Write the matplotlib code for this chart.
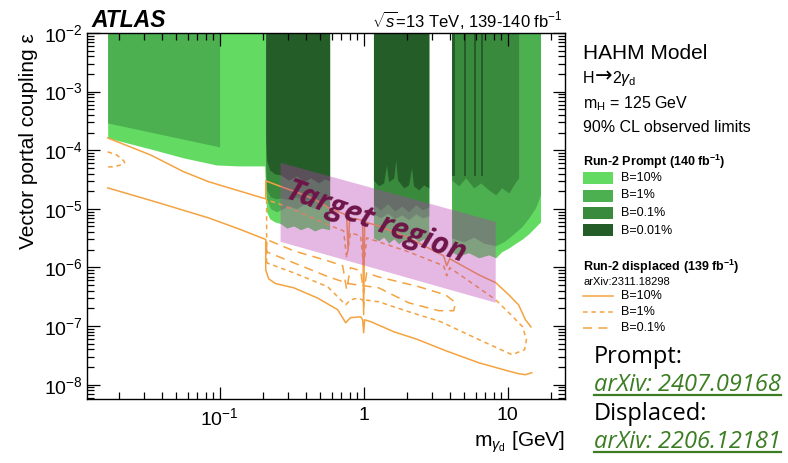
import numpy as np
import matplotlib
matplotlib.use('Agg')
import matplotlib.pyplot as plt
from matplotlib.patches import Rectangle, Polygon
from matplotlib.lines import Line2D
from matplotlib.ticker import LogLocator, NullFormatter

plt.rcParams['font.family'] = ['Liberation Sans', 'DejaVu Sans']
plt.rcParams['mathtext.fontset'] = 'custom'
plt.rcParams['mathtext.rm'] = 'Liberation Sans'
plt.rcParams['mathtext.it'] = 'Liberation Sans:italic'
plt.rcParams['mathtext.bf'] = 'Liberation Sans:bold'
plt.rcParams['mathtext.sf'] = 'Liberation Sans'

# ---------------- prompt analysis: lower edge of excluded region (filled to eps = 1e-2)
eps_top = 1e-2

b10_segments = [
    ([0.0167, 0.0332, 0.0562, 0.0953, 0.1355, 0.2054, 0.209, 0.212, 0.2225, 0.241, 0.265,
      0.292, 0.327, 0.365, 0.408, 0.457, 0.511, 0.58],
     [1.62e-4, 1.05e-4, 7.4e-5, 5.6e-5, 5.4e-5, 5.4e-5, 1.73e-5, 8.9e-6, 6.8e-6, 6.0e-6, 5.6e-6,
      4.7e-6, 5.1e-6, 4.4e-6, 4.9e-6, 4.2e-6, 4.7e-6, 4.4e-6]),
    ([1.17, 1.27, 1.377, 1.49, 1.62, 1.75, 1.90, 2.05, 2.22, 2.41, 2.61, 2.83],
     [3.2e-6, 2.85e-6, 3.3e-6, 2.6e-6, 3.08e-6, 2.54e-6, 3.0e-6, 2.6e-6, 3.2e-6, 2.74e-6, 3.08e-6, 2.85e-6]),
    ([4.08, 4.57, 5.36, 6.29, 7.38, 8.26, 9.08, 10.2, 11.4, 12.5, 14.0, 15.6, 16.9],
     [1.85e-6, 1.58e-6, 1.78e-6, 1.46e-6, 1.64e-6, 1.46e-6, 1.85e-6, 2.16e-6, 2.6e-6, 3.0e-6,
      3.75e-6, 4.9e-6, 6.0e-6]),
]
b1_segments = [
    ([0.0167, 0.1], [2.92e-4, 1.14e-4]),
    ([0.209, 0.212, 0.226, 0.249, 0.265, 0.301, 0.343, 0.389, 0.443, 0.503, 0.58],
     [3.1e-5, 1.43e-5, 1.0e-5, 8.9e-6, 9.6e-6, 1.12e-5, 1.0e-5, 1.22e-5, 1.04e-5, 1.17e-5, 1.08e-5]),
    ([1.17, 1.31, 1.47, 1.64, 1.84, 2.05, 2.30, 2.57, 2.83],
     [8.2e-6, 7.0e-6, 8.5e-6, 6.8e-6, 7.9e-6, 6.5e-6, 8.2e-6, 7.0e-6, 7.6e-6]),
    ([4.08, 4.95, 5.81, 6.81, 8.26, 9.38, 10.2, 11.4, 12.5, 14.0, 15.6, 16.4, 16.9],
     [3.2e-6, 2.74e-6, 3.3e-6, 2.6e-6, 2.34e-6, 2.74e-6, 3.2e-6, 4.06e-6, 4.9e-6, 7.0e-6,
      1.04e-5, 1.43e-5, 1.8e-5]),
]
b01_segments = [
    ([0.209, 0.212, 0.226, 0.249, 0.265, 0.301, 0.343, 0.389, 0.443, 0.503, 0.58],
     [4.6e-5, 2.11e-5, 1.6e-5, 1.48e-5, 1.54e-5, 1.43e-5, 1.6e-5, 1.37e-5, 1.54e-5, 1.32e-5, 1.48e-5]),
    ([1.17, 1.31, 1.47, 1.64, 1.84, 2.05, 2.30, 2.57, 2.83],
     [1.17e-5, 9.6e-6, 1.22e-5, 9.2e-6, 1.12e-5, 8.9e-6, 1.17e-5, 9.6e-6, 1.08e-5]),
    ([4.08, 4.57, 5.11, 5.81, 6.49, 7.38, 8.26, 9.08, 10.2, 11.0, 11.9],
     [3.1e-5, 2.47e-5, 3.38e-5, 2.28e-5, 2.77e-5, 2.11e-5, 1.73e-5, 2.28e-5, 1.87e-5, 2.56e-5, 3.38e-5]),
]
b001_segments = [
    ([0.209, 0.212, 0.2225, 0.241, 0.265, 0.301, 0.343, 0.383, 0.428, 0.487, 0.536, 0.58],
     [1.5e-4, 6.8e-5, 4.6e-5, 3.95e-5, 3.8e-5, 3.1e-5, 3.66e-5, 2.9e-5, 3.38e-5, 2.77e-5, 3.25e-5, 3.0e-5]),
    ([1.17, 1.27, 1.377, 1.44, 1.49, 1.62, 1.67, 1.72, 1.90, 2.05, 2.15, 2.22, 2.41, 2.61, 2.83],
     [3.1e-5, 2.47e-5, 2.77e-5, 5.6e-5, 2.9e-5, 3.38e-5, 6.8e-5, 3.1e-5, 2.28e-5, 2.56e-5, 5.0e-5,
      2.47e-5, 2.11e-5, 2.56e-5, 2.28e-5]),
    ([4.12, 4.30], [3.6e-5, 3.6e-5]),
    ([5.00, 5.16], [3.6e-5, 3.6e-5]),
    ([5.85, 6.02], [3.6e-5, 3.6e-5]),
    ([6.55, 6.72], [3.6e-5, 3.6e-5]),
]

# ---------------- displaced analysis contours
d10_upper_m = [0.0167, 0.0332, 0.0562, 0.0839, 0.209, 0.209, 0.27, 0.354, 0.464, 0.571, 0.726, 0.762,
               0.78, 0.80, 0.953, 0.984, 1.0, 1.016, 1.27, 2.05, 3.59, 3.77, 3.96, 6.29, 8.26, 10.2,
               11.9, 13.3, 14.5]
d10_upper_eps = [1.62e-4, 8.3e-5, 4.3e-5, 2.9e-5, 1.48e-5, 3.0e-5, 2.37e-5, 1.87e-5, 1.43e-5, 1.04e-5,
                 8.2e-6, 7.6e-6, 2.0e-6, 7.0e-6, 6.5e-6, 6.0e-6, 1.56e-7, 6.0e-6, 5.1e-6, 3.2e-6,
                 1.58e-6, 1.07e-6, 1.41e-6, 7.5e-7, 5.5e-7, 3.4e-7, 2.3e-7, 1.28e-7, 9.7e-8]
d10_lower_m = [0.0167, 0.0377, 0.0839, 0.1355, 0.209, 0.209, 0.219, 0.245, 0.327, 0.48, 0.66, 0.75,
               0.81, 0.953, 0.984, 1.0, 1.016, 1.12, 1.62, 2.37, 3.71, 6.29, 9.38, 11.9, 13.3, 14.7]
d10_lower_eps = [2.28e-5, 1.27e-5, 7.0e-6, 4.56e-6, 3.0e-6, 9.1e-7, 6.4e-7, 5.3e-7, 4.5e-7, 3.0e-7,
                 1.9e-7, 1.14e-7, 1.39e-7, 1.44e-7, 1.28e-7, 7.7e-8, 1.28e-7, 1.19e-7, 8.0e-8, 5.9e-8,
                 3.8e-8, 2.37e-8, 1.8e-8, 1.54e-8, 1.48e-8, 1.6e-8]

d1_m = [0.212, 0.212, 0.27, 0.354, 0.571, 0.726, 0.762, 0.81, 0.953, 1.0, 1.05, 1.27, 2.05, 3.59, 3.77,
        3.96, 6.29, 8.26, 10.7, 12.7, 13.5, 13.1, 10.7, 6.29, 3.42, 2.05, 1.27, 1.016, 1.0, 0.984,
        0.91, 0.81, 0.75, 0.715, 0.562, 0.327, 0.212]
d1_eps = [1.2e-6, 1.43e-5, 1.17e-5, 8.9e-6, 5.3e-6, 4.2e-6, 1.46e-6, 3.9e-6, 3.47e-6, 9.9e-7, 3.2e-6,
          2.74e-6, 1.85e-6, 1.07e-6, 7.2e-7, 9.9e-7, 4.5e-7, 2.8e-7, 1.5e-7, 9.7e-8, 5.9e-8, 3.95e-8,
          3.25e-8, 5.9e-8, 1.19e-7, 1.76e-7, 2.6e-7, 2.8e-7, 2.2e-7, 2.8e-7, 3.0e-7, 2.8e-7, 2.3e-7,
          2.6e-7, 4.7e-7, 8.1e-7, 1.2e-6]
d1_island_m = [0.0167, 0.0193, 0.0216, 0.0219, 0.0205, 0.0184, 0.0167]
d1_island_eps = [9.4e-5, 8.3e-5, 6.6e-5, 6.1e-5, 5.6e-5, 5.2e-5, 5.2e-5]

d01_m = [0.212, 0.212, 0.327, 0.562, 0.715, 0.762, 0.81, 0.953, 1.0, 1.05, 1.27, 2.41, 3.71, 4.35,
         4.22, 3.32, 2.05, 1.27, 0.787, 0.571, 0.354, 0.212]
d01_eps = [1.85e-6, 3.0e-6, 1.92e-6, 1.3e-6, 1.07e-6, 4.2e-7, 9.9e-7, 8.8e-7, 3.7e-7, 8.1e-7, 6.9e-7,
           4.7e-7, 3.4e-7, 2.5e-7, 1.83e-7, 1.83e-7, 2.5e-7, 4.5e-7, 5.3e-7, 6.9e-7, 1.11e-6, 1.85e-6]

# ---------------- target region
target_m = [0.265, 8.26]
target_eps_top = [6.1e-5, 6.0e-6]
target_eps_bottom = [2.74e-6, 2.5e-7]

col_b10 = '#63DB63'
col_b1 = '#4CAF50'
col_b01 = '#3A8A3E'
col_b001 = '#255D28'
col_orange = '#F4A340'

fig = plt.figure(figsize=(7.88, 4.63), dpi=100)
ax = fig.add_axes([87 / 788, 1 - 399 / 463, (565 - 87) / 788, (399 - 33) / 463])
ax.set_xscale('log')
ax.set_yscale('log')
ax.set_xlim(0.012, 25)
ax.set_ylim(5.7e-9, 1e-2)

for segs, col in [(b10_segments, col_b10), (b1_segments, col_b1),
                  (b01_segments, col_b01), (b001_segments, col_b001)]:
    for m, e in segs:
        ax.fill_between(m, e, eps_top, color=col, lw=0, zorder=1)

ax.plot(d10_upper_m, d10_upper_eps, color=col_orange, lw=1.1, zorder=2)
ax.plot(d10_lower_m, d10_lower_eps, color=col_orange, lw=1.1, zorder=2)
ax.plot(d1_m, d1_eps, color=col_orange, lw=1.1, dashes=(3, 2.5), zorder=2)
ax.plot(d1_island_m, d1_island_eps, color=col_orange, lw=1.1, dashes=(3, 2.5), zorder=2)
ax.plot(d01_m, d01_eps, color=col_orange, lw=1.1, dashes=(6, 4), zorder=2)

pink = Polygon(list(zip(target_m + target_m[::-1], target_eps_top + target_eps_bottom[::-1])),
               closed=True, facecolor='#B83AB4', alpha=0.36, lw=0, zorder=3)
ax.add_patch(pink)
ax.text(1.22, 6.0e-6, 'Target region', family='Open Sans', weight='bold', style='italic',
        fontsize=22, color='#6E1448', rotation=-20, ha='center', va='center',
        rotation_mode='anchor', zorder=4)

# axes / ticks in ROOT style
ax.set_xticks([0.1, 1, 10])
ax.set_xticklabels([r'$10^{-1}$', '1', '10'])
ax.set_yticks([1e-8, 1e-7, 1e-6, 1e-5, 1e-4, 1e-3, 1e-2])
ax.set_yticklabels([r'$10^{-8}$', r'$10^{-7}$', r'$10^{-6}$', r'$10^{-5}$', r'$10^{-4}$',
                    r'$10^{-3}$', r'$10^{-2}$'])
ax.xaxis.set_minor_locator(LogLocator(base=10, subs=np.arange(2, 10), numticks=30))
ax.yaxis.set_minor_locator(LogLocator(base=10, subs=np.arange(2, 10), numticks=30))
ax.xaxis.set_minor_formatter(NullFormatter())
ax.yaxis.set_minor_formatter(NullFormatter())
ax.tick_params(which='both', direction='in', top=True, right=True, width=0.9, labelsize=14)
ax.tick_params(which='major', length=9)
ax.tick_params(which='minor', length=5)
ax.tick_params(axis='x', pad=6)
ax.tick_params(axis='y', pad=3)
for s in ax.spines.values():
    s.set_linewidth(1.0)
    s.set_zorder(5)

ax.set_ylabel('Vector portal coupling ε', fontsize=15, loc='top', labelpad=4)
ax.set_xlabel(r'm$_{\gamma_{\mathrm{d}}}$ [GeV]', fontsize=15, loc='right', labelpad=0)

# header
fig.text(91 / 788, 1 - 27 / 463, 'ATLAS', fontsize=16.5, weight='bold', style='italic', va='baseline')
fig.text(563 / 788, 1 - 27 / 463, r'$\sqrt{s}$=13 TeV, 139-140 fb$^{-1}$', fontsize=12,
         ha='right', va='baseline')

# right-hand side text and legend
X0 = 583 / 788
def fy(py):
    return 1 - py / 463

fig.text(X0, fy(59), 'HAHM Model', fontsize=15, va='baseline')
fig.text(X0, fy(108), r'm$_{\mathrm{H}}$ = 125 GeV', fontsize=11.5, va='baseline')
fig.text(X0, fy(132), '90% CL observed limits', fontsize=11.5, va='baseline')

fig.text(X0, fy(166), r'Run-2 Prompt (140 fb$^{\mathbf{-1}}$)', fontsize=9, weight='bold', va='baseline')
prompt_labels = ['B=10%', 'B=1%', 'B=0.1%', 'B=0.01%']
prompt_cols = [col_b10, col_b1, col_b01, col_b001]
for i, (lab, col) in enumerate(zip(prompt_labels, prompt_cols)):
    yc = 178 + i * 17.5
    fig.add_artist(Rectangle((X0, fy(yc + 6)), 30 / 788, 12 / 463, transform=fig.transFigure,
                             facecolor=col, edgecolor='none'))
    fig.text(621 / 788, fy(yc), lab, fontsize=9, va='center')

fig.text(X0, fy(271), r'Run-2 displaced (139 fb$^{\mathbf{-1}}$)', fontsize=9, weight='bold', va='baseline')
fig.text(X0, fy(285), 'arXiv:2311.18298', fontsize=8, va='baseline')
disp_labels = ['B=10%', 'B=1%', 'B=0.1%']
disp_dashes = [None, (3, 2.5), (6, 4)]
for i, (lab, dsh) in enumerate(zip(disp_labels, disp_dashes)):
    yc = 296 + i * 16
    ln = Line2D([X0, 613 / 788], [fy(yc), fy(yc)], transform=fig.transFigure, color=col_orange, lw=1.1)
    if dsh is not None:
        ln.set_dashes(dsh)
    fig.add_artist(ln)
    fig.text(621 / 788, fy(yc), lab, fontsize=9, va='center')

link_col = '#3C7D23'
fig.text(594 / 788, fy(363), 'Prompt:', family='Open Sans', fontsize=17, va='baseline')
t1 = fig.text(594 / 788, fy(391), 'arXiv: 2407.09168', family='Open Sans', style='italic',
              fontsize=17, color=link_col, va='baseline')
fig.text(594 / 788, fy(420), 'Displaced:', family='Open Sans', fontsize=17, va='baseline')
t2 = fig.text(594 / 788, fy(448), 'arXiv: 2206.12181', family='Open Sans', style='italic',
              fontsize=17, color=link_col, va='baseline')

# "H -> 2 gamma_d" built from pieces so the arrow can be long
fig.canvas.draw()
r = fig.canvas.get_renderer()
W = fig.bbox.width
h_txt = fig.text(X0, fy(83), 'H', fontsize=11.5, va='baseline')
xa = h_txt.get_window_extent(r).x1 / W
arr = fig.text(xa, fy(82), '→', family='DejaVu Sans', fontsize=15, va='baseline')
xb = arr.get_window_extent(r).x1 / W
fig.text(xb, fy(83), r'2$\gamma_{\mathrm{d}}$', fontsize=11.5, va='baseline')

for t, uy in [(t1, 395), (t2, 452)]:
    bb = t.get_window_extent(r)
    x0, x1 = bb.x0 / W, bb.x1 / W
    fig.add_artist(Line2D([x0, x1], [fy(uy), fy(uy)], transform=fig.transFigure, color=link_col, lw=1.6))

fig.savefig('out.png', dpi=100)
